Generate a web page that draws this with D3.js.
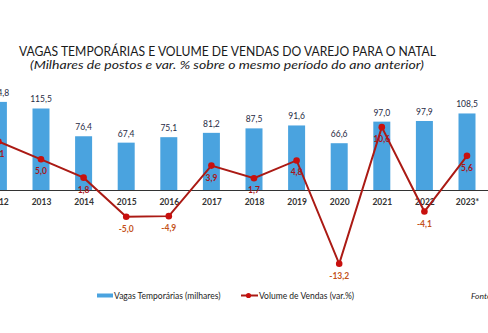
<!DOCTYPE html>
<html><head><meta charset="utf-8">
<script src="https://cdn.jsdelivr.net/npm/d3@7"></script>
<style>html,body{margin:0;padding:0;background:#fff;}svg{display:block;}</style>
</head><body>
<svg id="c" width="488" height="333"></svg>
<script>
const years = ["2012","2013","2014","2015","2016","2017","2018","2019","2020","2021","2022","2023*"];
const vagas = [124.8,115.5,76.4,67.4,75.1,81.2,87.5,91.6,66.6,97.0,97.9,108.5];
const vendas = [8.1,5.0,1.8,-5.0,-4.9,3.9,1.7,4.8,-13.2,10.6,-4.1,5.6];
const title = "VAGAS TEMPORÁRIAS E VOLUME DE VENDAS DO VAREJO PARA O NATAL";
const subtitle = "(Milhares de postos e var. % sobre o mesmo período do ano anterior)";
const legendLabels = ["Vagas Temporárias (milhares)", "Volume de Vendas (var.%)"];
const sourceLabel = "Fonte: CNC";

const svg = d3.select("#c");
const font = "Lato, 'Open Sans', sans-serif";
const fmt = v => d3.format(".1f")(v).replace(".", ",").replace("\u2212", "-");

const x = d3.scalePoint().domain(years).range([-1.6, 467]);
const yBar = d3.scaleLinear().domain([0, 140]).range([190.5, 190.5 - 99.4]);
const yLine = d3.scaleLinear().domain([-15, 15]).range([188 + 86.1, 188 - 86.1]);
const bw = 17;

// title
svg.append("text").attr("x", 227.5).attr("y", 56).attr("text-anchor", "middle")
  .attr("font-family", font).attr("font-size", 12.5).attr("fill", "#1a1a1a")
  .attr("textLength", 417).attr("lengthAdjust", "spacingAndGlyphs").text(title);
svg.append("text").attr("x", 227).attr("y", 69).attr("text-anchor", "middle")
  .attr("font-family", font).attr("font-size", 11).attr("font-style", "italic").attr("fill", "#1a1a1a")
  .attr("textLength", 394).attr("lengthAdjust", "spacingAndGlyphs").text(subtitle);

// bars
svg.append("g").selectAll("rect").data(years).join("rect")
  .attr("x", d => x(d) - bw / 2).attr("width", bw)
  .attr("y", (d, i) => yBar(vagas[i])).attr("height", (d, i) => yBar(0) - yBar(vagas[i]))
  .attr("fill", "#4aa3df");

svg.append("g").selectAll("text").data(years).join("text")
  .attr("x", d => x(d)).attr("y", (d, i) => yBar(vagas[i]) - 6)
  .attr("text-anchor", "middle").attr("font-family", font).attr("font-size", 8.5)
  .attr("fill", "#1f2a44").text((d, i) => fmt(vagas[i]));

// axis
const axis = svg.append("g").attr("transform", `translate(0,${yBar(0)})`)
  .call(d3.axisBottom(x).tickSize(0).tickPadding(8));
axis.select(".domain").remove();
svg.append("line").attr("x1", 0).attr("x2", 488).attr("y1", yBar(0)).attr("y2", yBar(0))
  .attr("stroke", "#333").attr("stroke-width", 1);
axis.selectAll("text").attr("font-family", font).attr("font-size", 8.5).attr("font-weight", "bold").attr("fill", "#333");

// line
const line = d3.line().x((d, i) => x(years[i])).y(d => yLine(d));
svg.append("path").datum(vendas).attr("d", line).attr("fill", "none")
  .attr("stroke", "#ab1a14").attr("stroke-width", 2);
svg.append("g").selectAll("circle").data(vendas).join("circle")
  .attr("cx", (d, i) => x(years[i])).attr("cy", d => yLine(d)).attr("r", 3.3)
  .attr("fill", "#c8100e");
svg.append("g").selectAll("text").data(vendas).join("text")
  .attr("x", (d, i) => x(years[i])).attr("y", d => yLine(d) + 15)
  .attr("text-anchor", "middle").attr("font-family", font).attr("font-size", 8.5).attr("font-weight", "bold")
  .attr("fill", d => d < 0 ? "#c4521a" : "#a8161a").text(d => fmt(d));

// legend
const ly = 295.5;
svg.append("rect").attr("x", 97).attr("y", ly - 2).attr("width", 16).attr("height", 4).attr("fill", "#4aa3df");
svg.append("text").attr("x", 114).attr("y", ly + 3).attr("font-family", font).attr("font-size", 8.5)
  .attr("fill", "#222").text(legendLabels[0]);
svg.append("line").attr("x1", 241).attr("x2", 258).attr("y1", ly).attr("y2", ly)
  .attr("stroke", "#ab1a14").attr("stroke-width", 2);
svg.append("circle").attr("cx", 248.5).attr("cy", ly).attr("r", 2.6).attr("fill", "#c8100e");
svg.append("text").attr("x", 259).attr("y", ly + 3).attr("font-family", font).attr("font-size", 8.5)
  .attr("fill", "#222").text(legendLabels[1]);
svg.append("text").attr("x", 471).attr("y", ly + 3).attr("font-family", font).attr("font-size", 8.5)
  .attr("font-style", "italic").attr("fill", "#222").text(sourceLabel);
</script>
</body></html>
